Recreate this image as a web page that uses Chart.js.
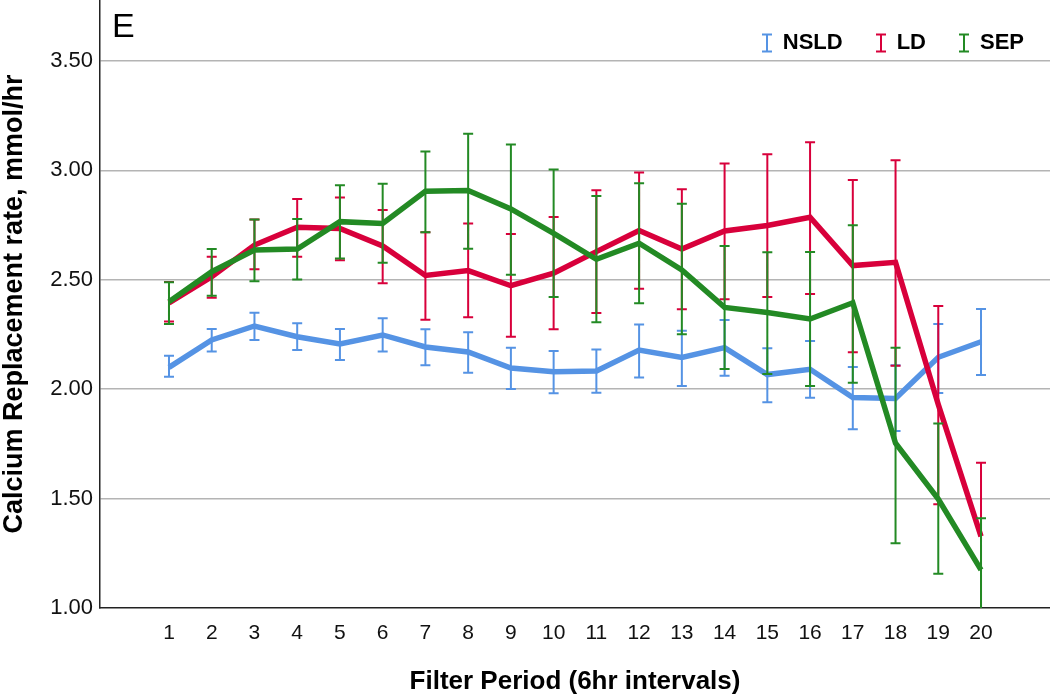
<!DOCTYPE html>
<html>
<head>
<meta charset="utf-8">
<script src="https://cdn.jsdelivr.net/npm/chart.js@4.4.1/dist/chart.umd.min.js"></script>
<style>
    html, body { margin: 0; padding: 0; background: #fff; }
    #wrap { width: 1050px; height: 699px; position: relative; }
</style>
</head>
<body>
<div id="wrap"><canvas id="chart"></canvas></div>
<script>
const periods = [1, 2, 3, 4, 5, 6, 7, 8, 9, 10, 11, 12, 13, 14, 15, 16, 17, 18, 19, 20];
const yTicks = [1.0, 1.5, 2.0, 2.5, 3.0, 3.5];

// NSLD
const nsldMean = [2.100, 2.225, 2.289, 2.240, 2.207, 2.248, 2.193, 2.170, 2.097, 2.080, 2.083, 2.179, 2.145, 2.190, 2.067, 2.091, 1.962, 1.958, 2.146, 2.217];
const nsldLow  = [2.057, 2.172, 2.225, 2.179, 2.133, 2.172, 2.110, 2.075, 2.001, 1.981, 1.984, 2.054, 2.015, 2.062, 1.940, 1.961, 1.817, 1.809, 1.983, 2.065];
const nsldHigh = [2.153, 2.275, 2.350, 2.301, 2.275, 2.324, 2.274, 2.260, 2.190, 2.175, 2.181, 2.296, 2.267, 2.316, 2.187, 2.220, 2.101, 2.110, 2.298, 2.367];

// LD
const ldMean = [2.395, 2.514, 2.659, 2.740, 2.735, 2.655, 2.520, 2.542, 2.473, 2.530, 2.629, 2.725, 2.641, 2.723, 2.748, 2.786, 2.565, 2.580, 1.930, 1.327];
const ldLow  = [2.309, 2.418, 2.548, 2.606, 2.590, 2.484, 2.318, 2.329, 2.240, 2.274, 2.348, 2.459, 2.366, 2.411, 2.421, 2.435, 2.169, 2.107, 1.474, 0.990];
const ldHigh = [2.490, 2.606, 2.776, 2.869, 2.876, 2.819, 2.717, 2.757, 2.709, 2.787, 2.909, 2.991, 2.914, 3.032, 3.074, 3.129, 2.956, 3.046, 2.380, 1.664];

// SEP
const sepMean = [2.400, 2.537, 2.636, 2.641, 2.766, 2.758, 2.905, 2.908, 2.824, 2.712, 2.594, 2.667, 2.545, 2.374, 2.351, 2.321, 2.395, 1.753, 1.498, 1.174];
const sepLow  = [2.298, 2.427, 2.494, 2.502, 2.598, 2.578, 2.717, 2.642, 2.523, 2.421, 2.306, 2.393, 2.251, 2.092, 2.069, 2.015, 2.030, 1.296, 1.157, 0.940];
const sepHigh = [2.489, 2.641, 2.776, 2.778, 2.932, 2.939, 3.087, 3.168, 3.118, 3.004, 2.883, 2.941, 2.848, 2.655, 2.626, 2.627, 2.750, 2.190, 1.843, 1.410];

const FONT = '"Liberation Sans", Arial, Helvetica, sans-serif';
const BLUE = '#5593e4';
const RED = '#d8003b';
const GREEN = '#238a24';

// small "I" glyph used as legend marker
function errorIcon(color) {
    const c = document.createElement('canvas');
    c.width = 12;
    c.height = 20;
    const g = c.getContext('2d');
    g.strokeStyle = color;
    g.lineWidth = 2;
    g.beginPath();
    g.moveTo(1, 1.5); g.lineTo(11, 1.5);
    g.moveTo(6, 1.5); g.lineTo(6, 18.5);
    g.moveTo(1, 18.5); g.lineTo(11, 18.5);
    g.stroke();
    return c;
}

function toPoints(values) {
    return periods.map((p, i) => ({ x: p, y: values[i] }));
}

function makeSet(label, color, mean, low, high, order) {
    return {
        label: label,
        data: toPoints(mean),
        errLow: low,
        errHigh: high,
        borderColor: color,
        backgroundColor: color,
        borderWidth: 5.5,
        pointRadius: 0,
        pointHoverRadius: 0,
        pointStyle: errorIcon(color),
        tension: 0,
        order: order,
    };
}

// error bars, drawn through the chart scales just under each line
const errorBars = {
    id: 'errorBars',
    beforeDatasetDraw(chart, args) {
        const ds = chart.data.datasets[args.index];
        if (!ds.errLow) return;
        const x = chart.scales.x;
        const y = chart.scales.y;
        const area = chart.chartArea;
        const ctx = chart.ctx;
        ctx.save();
        ctx.beginPath();
        ctx.rect(area.left, area.top - 1, area.right - area.left, area.bottom - area.top + 1);
        ctx.clip();
        ctx.strokeStyle = ds.borderColor;
        ctx.lineWidth = 2;
        ctx.beginPath();
        periods.forEach((p, i) => {
            const px = x.getPixelForValue(p);
            const y0 = y.getPixelForValue(ds.errLow[i]);
            const y1 = y.getPixelForValue(ds.errHigh[i]);
            ctx.moveTo(px, y0); ctx.lineTo(px, y1);
            ctx.moveTo(px - 5, y0); ctx.lineTo(px + 5, y0);
            ctx.moveTo(px - 5, y1); ctx.lineTo(px + 5, y1);
        });
        ctx.stroke();
        ctx.restore();
    },
};

// legend in the top right corner of the plot + panel letter
const overlay = {
    id: 'overlay',
    afterDraw(chart) {
        const ctx = chart.ctx;
        ctx.save();
        ctx.fillStyle = '#000';
        ctx.font = '34px ' + FONT;
        ctx.textBaseline = 'alphabetic';
        ctx.fillText('E', 112, 37);

        ctx.font = 'bold 22px ' + FONT;
        ctx.textBaseline = 'middle';
        const rowY = 43;
        let right = 1024;
        const items = chart.data.datasets.slice().reverse();
        items.forEach((ds) => {
            const w = ctx.measureText(ds.label).width;
            const textX = right - w;
            const iconX = textX - 16;
            ctx.fillText(ds.label, textX, rowY);
            const icon = ds.pointStyle;
            ctx.drawImage(icon, Math.round(iconX - icon.width / 2), Math.round(rowY - icon.height / 2));
            right = iconX - 38;
        });
        ctx.restore();
    },
};

const ctx = document.getElementById('chart');
new Chart(ctx, {
    type: 'line',
    data: {
        datasets: [
            makeSet('NSLD', BLUE, nsldMean, nsldLow, nsldHigh, 3),
            makeSet('LD', RED, ldMean, ldLow, ldHigh, 2),
            makeSet('SEP', GREEN, sepMean, sepLow, sepHigh, 1),
        ],
    },
    options: {
        responsive: true,
        maintainAspectRatio: false,
        animation: false,
        layout: { padding: 0 },
        plugins: {
            tooltip: { enabled: false },
            legend: { display: false },
        },
        scales: {
            x: {
                type: 'linear',
                min: -0.614,
                max: 21.614,
                afterBuildTicks: (scale) => {
                    scale.ticks = periods.map((v) => ({ value: v }));
                },
                afterFit: (scale) => {
                    scale.height = 91;
                    scale.paddingLeft = 0;
                    scale.paddingRight = 0;
                },
                grid: { display: false, drawTicks: false },
                border: { display: true, color: '#222', width: 1.5 },
                ticks: {
                    padding: 13,
                    maxRotation: 0,
                    autoSkip: false,
                    color: '#111',
                    font: { family: FONT, size: 21 },
                    callback: (v) => String(v),
                },
                title: {
                    display: true,
                    text: 'Filter Period (6hr intervals)',
                    color: '#000',
                    font: { family: FONT, size: 26, weight: 'bold', lineHeight: 1.2 },
                    padding: { top: 0, bottom: 2 },
                },
            },
            y: {
                type: 'linear',
                min: 1,
                max: 3.779,
                afterBuildTicks: (scale) => {
                    scale.ticks = yTicks.map((v) => ({ value: v }));
                },
                afterFit: (scale) => {
                    scale.width = 100;
                    scale.paddingTop = 0;
                    scale.paddingBottom = 0;
                },
                grid: {
                    drawTicks: false,
                    color: (c) => (c.tick && c.tick.value === 1 ? 'rgba(0,0,0,0)' : '#b4b4b4'),
                    lineWidth: 1.5,
                },
                border: { display: true, color: '#222', width: 1.5 },
                ticks: {
                    padding: 7,
                    color: '#111',
                    font: { family: FONT, size: 22 },
                    callback: (v) => Number(v).toFixed(2),
                },
                title: {
                    display: true,
                    text: 'Calcium Replacement rate, mmol/hr',
                    color: '#000',
                    font: { family: FONT, size: 27, weight: 'bold', lineHeight: 1.0 },
                    padding: { top: 1, bottom: 0 },
                },
            },
        },
    },
    plugins: [errorBars, overlay],
});
</script>
</body>
</html>
